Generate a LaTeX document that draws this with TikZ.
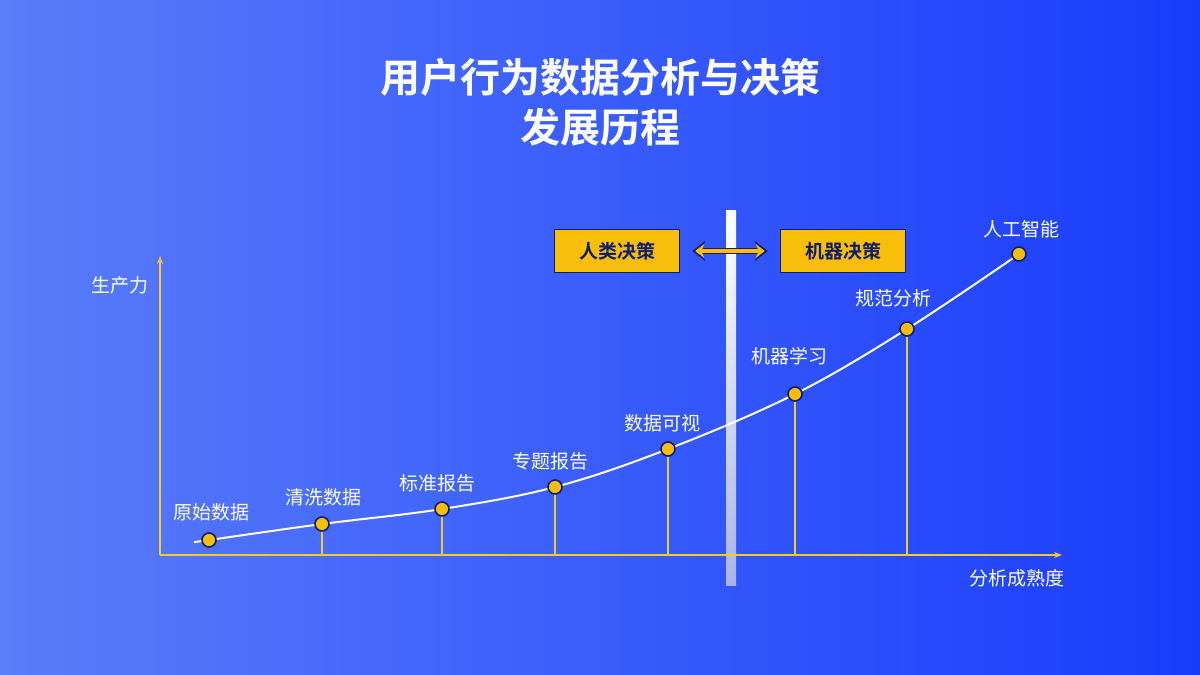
\documentclass[tikz,border=0pt]{standalone}
\usepackage{fontspec}
\setmainfont{Noto Sans CJK SC}
\newfontfamily\cjkb{Noto Sans CJK SC Bold}
\usetikzlibrary{arrows.meta}
\definecolor{ylw}{HTML}{F9BE0A}
\definecolor{axy}{HTML}{F2CB2A}
\definecolor{navy}{HTML}{0E1E6E}
\definecolor{bgul}{RGB}{90,125,250}
\definecolor{bglr}{RGB}{25,60,252}
\definecolor{barb}{RGB}{170,180,235}
\tikzset{
  lbl/.style={text=white,font=\fontsize{19}{19}\selectfont},
  dot/.style={circle,fill=ylw,draw=navy,line width=1.6pt,minimum size=14pt,inner sep=0pt},
  drop/.style={axy,line width=1.6pt},
  dbox/.style={fill=ylw,draw=navy,line width=1.5pt,minimum width=125pt,minimum height=43pt,font=\cjkb\fontsize{19}{19}\selectfont,text=navy}
}
\begin{document}
\begin{tikzpicture}[x=1pt,y=-1pt]
\useasboundingbox (0,0) rectangle (1200,675);
\shade[left color=bgul,right color=bglr] (0,0) rectangle (1200,675);
\node[text=white,font=\cjkb\fontsize{40}{50}\selectfont,align=center] (title) at (600,102) {用户行为数据分析与决策\\发展历程};
% vertical divider
\shade[top color=white,bottom color=barb] (726,210) rectangle (736,585);
% axes
\coordinate (o) at (160,555);
\coordinate (xe) at (1062,555);
\coordinate (ye) at (160,256);
\draw[axy,line width=2pt,-{Stealth[length=8pt]}] (o) -- (xe);
\draw[axy,line width=2pt,-{Stealth[length=8pt]}] (o) -- (ye);
\node[lbl] (ylab) at (120,285) {生产力};
\node[lbl] (xlab) at (1017,578) {分析成熟度};
% points
\coordinate (s) at (195,542);
\coordinate (p1) at (209,540);
\coordinate (p2) at (322,524);
\coordinate (p3) at (442,509);
\coordinate (p4) at (555,487);
\coordinate (p5) at (668,449);
\coordinate (p6) at (795,394);
\coordinate (p7) at (907,329);
\coordinate (p8) at (1019,254);
\foreach \p in {p2,p3,p4,p5,p6,p7}{\draw[drop] (\p) -- (\p |- o);}
\draw[white,line width=2pt] plot[smooth,tension=0.6] coordinates {(s) (p1) (p2) (p3) (p4) (p5) (p6) (p7) (p8)};
\foreach \p in {p1,p2,p3,p4,p5,p6,p7,p8}{\node[dot] (d\p) at (\p) {};}
\node[lbl] (l1) at (211,512) {原始数据};
\node[lbl] (l2) at (323,497) {清洗数据};
\node[lbl] (l3) at (437,483) {标准报告};
\node[lbl] (l4) at (550,461) {专题报告};
\node[lbl] (l5) at (662,423) {数据可视};
\node[lbl] (l6) at (789,356) {机器学习};
\node[lbl] (l7) at (893,298) {规范分析};
\node[lbl] (l8) at (1021,229) {人工智能};
% decision boxes
\node[dbox] (hum) at (617,251) {人类决策};
\node[dbox] (mac) at (843,251) {机器决策};
\draw[navy,line width=6pt,{Stealth[length=13pt,width=20pt]}-{Stealth[length=13pt,width=20pt]}] ([xshift=12pt]hum.east) -- ([xshift=-12pt]mac.west);
\draw[ylw,line width=3.2pt,{Stealth[length=9pt,width=14pt]}-{Stealth[length=9pt,width=14pt]}] ([xshift=15pt]hum.east) -- ([xshift=-15pt]mac.west);
\end{tikzpicture}
\end{document}
